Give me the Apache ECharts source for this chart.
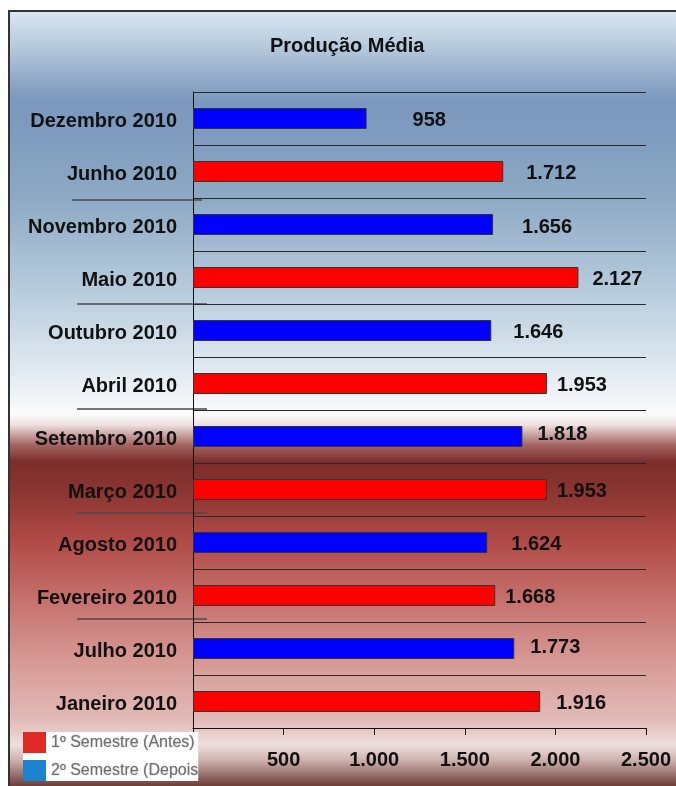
<!DOCTYPE html>
<html>
<head>
<meta charset="utf-8">
<script src="https://cdn.jsdelivr.net/npm/echarts@6/dist/echarts.min.js"></script>
<style>
html,body{margin:0;padding:0;background:#fff;}
#chart{width:676px;height:786px;}
</style>
</head>
<body>
<div id="chart"></div>
<script>
// Categories listed top to bottom as in the picture
const categories = ['Dezembro 2010','Junho 2010','Novembro 2010','Maio 2010','Outubro 2010','Abril 2010',
  'Setembro 2010','Março 2010','Agosto 2010','Fevereiro 2010','Julho 2010','Janeiro 2010'];
const values = [958, 1712, 1656, 2127, 1646, 1953, 1818, 1953, 1624, 1668, 1773, 1916];
// 1 = first semester (Jan-Jun), 2 = second semester (Jul-Dec)
const semester = [2, 1, 2, 1, 2, 1, 2, 1, 2, 1, 2, 1];
const seriesNames = ['1º Semestre (Antes)', '2º Semestre (Depois)'];
const xTicks = [0, 500, 1000, 1500, 2000, 2500];
const chartTitle = 'Produção Média';

// label placement tweaks (style only)
const labelGap = [46, 23, 29, 14, 22, 10, 15, 10, 24, 10, 16, 16];
const labelDy = [2, 2, 3, 2, 2, 2, -2, 2, 2, 2, -1, 2];

function fmt(v) { return String(v).replace(/\B(?=(\d{3})+(?!\d))/g, '.'); }

function seriesData(sem) {
  return values.map((v, i) => semester[i] === sem
    ? { value: v, label: { distance: labelGap[i], offset: [0, labelDy[i]] } }
    : null);
}

const chart = echarts.init(document.getElementById('chart'), null, { renderer: 'canvas' });

const bgStops = [
  [0.000, '#dbe7f2'], [0.044, '#b8cbdd'], [0.115, '#7b97bd'], [0.154, '#7e9bbf'],
  [0.244, '#8eaac5'], [0.373, '#bccfdf'], [0.476, '#e6edf3'], [0.521, '#fbfcfd'],
  [0.534, '#eee0df'], [0.560, '#a36462'], [0.582, '#7b2d2a'], [0.618, '#8a3531'],
  [0.683, '#b04a46'], [0.760, '#c6716d'], [0.837, '#d69894'], [0.915, '#e2bbb8'],
  [0.947, '#eddfdc'], [0.966, '#cfb3b0'], [1.000, '#6e3d38']
];

const leftArtifacts = [[72, 200, 202], [77, 304, 207], [77, 409, 207], [77, 513, 207], [77, 619, 207]];

const barLabel = {
  show: true, position: 'right',
  fontFamily: 'Liberation Sans', fontSize: 20, fontWeight: 'bold', color: '#111',
  formatter: p => fmt(p.value)
};

const option = {
  animation: false,
  title: {
    text: chartTitle, left: 270, top: 36, padding: 0,
    textStyle: { fontFamily: 'Liberation Sans', fontSize: 20, fontWeight: 'bold', color: '#111' }
  },
  graphic: [
    {
      type: 'rect', z: -10, silent: true,
      shape: { x: 9, y: 11, width: 667, height: 775 },
      style: {
        fill: new echarts.graphic.LinearGradient(0, 0, 0, 1,
          bgStops.map(s => ({ offset: s[0], color: s[1] })))
      }
    },
    { type: 'line', z: -5, silent: true, shape: { x1: 8, y1: 11, x2: 676, y2: 11 }, style: { stroke: '#333', lineWidth: 2 } },
    { type: 'line', z: -5, silent: true, shape: { x1: 9, y1: 11, x2: 9, y2: 786 }, style: { stroke: '#333', lineWidth: 2 } }
  ].concat(leftArtifacts.map(a => ({
    type: 'line', z: -4, silent: true,
    shape: { x1: a[0], y1: a[1], x2: a[2], y2: a[1] },
    style: { stroke: '#4a4a4a', lineWidth: 1.5 }
  }))),
  legend: {
    orient: 'vertical', left: 23, top: 732, padding: 0,
    itemWidth: 23, itemHeight: 21, itemGap: 7,
    backgroundColor: '#ffffff',
    icon: 'rect',
    selectedMode: false,
    itemStyle: { borderWidth: 0 },
    data: [
      { name: seriesNames[0], itemStyle: { color: '#e02a26', borderWidth: 0 } },
      { name: seriesNames[1], itemStyle: { color: '#1a84cf', borderWidth: 0 } }
    ],
    textStyle: {
      fontFamily: 'Liberation Sans', fontSize: 16, color: '#707070',
      width: 153, overflow: 'truncate', ellipsis: '',
      textShadowColor: 'rgba(120,120,120,0.6)', textShadowBlur: 1.5
    }
  },
  grid: { left: 193, right: 30, top: 92, bottom: 58, containLabel: false },
  xAxis: {
    type: 'value', min: xTicks[0], max: xTicks[xTicks.length - 1], interval: 500,
    axisLine: { show: true, lineStyle: { color: '#111', width: 1 } },
    axisTick: { show: true, length: 7, lineStyle: { color: '#111' } },
    splitLine: { show: false },
    axisLabel: {
      margin: 22, fontFamily: 'Liberation Sans', fontSize: 20, fontWeight: 'bold', color: '#111',
      formatter: v => fmt(v)
    }
  },
  yAxis: {
    type: 'category', data: categories, inverse: true,
    axisLine: { show: true, lineStyle: { color: '#111', width: 1 } },
    axisTick: { show: false },
    splitLine: { show: true, lineStyle: { color: '#2a2a2a', width: 1 } },
    axisLabel: {
      margin: 16, formatter: v => '{c|' + v + '}',
      rich: {
        c: { padding: [5, 0, 0, 0], fontFamily: 'Liberation Sans', fontSize: 20, fontWeight: 'bold', color: '#111' }
      }
    }
  },
  series: [
    {
      name: seriesNames[0], type: 'bar', data: seriesData(1), barWidth: 21, barGap: '-100%',
      itemStyle: { color: '#ff0000', borderColor: '#333', borderWidth: 1 },
      label: barLabel
    },
    {
      name: seriesNames[1], type: 'bar', data: seriesData(2), barWidth: 21, barGap: '-100%',
      itemStyle: { color: '#0000ff', borderColor: '#333', borderWidth: 1 },
      label: barLabel
    }
  ]
};

chart.setOption(option);
</script>
</body>
</html>
